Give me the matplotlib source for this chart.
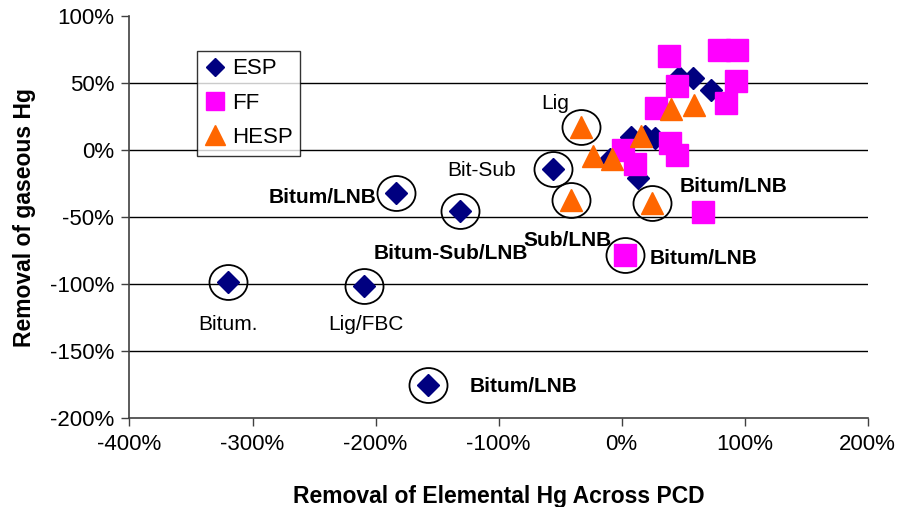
import matplotlib
matplotlib.use("Agg")
import matplotlib.pyplot as plt
from matplotlib.path import Path
from matplotlib.transforms import Affine2D
from matplotlib.ticker import FuncFormatter, MultipleLocator

plt.rcParams['font.family'] = ['Liberation Sans', 'DejaVu Sans']

# ---- data (percent) ----
esp_x = [-320, -209, -183, -131, -56, -157, 8, 19, 27, 13.5, -9.5, 47, 58, 73]
esp_y = [-98, -101, -32, -45, -14, -175, 10, 11, 9, -21, -6.5, 55, 54, 45]

ff_x = [38.5, 79, 94, 45, 93, 84.6, 28, 39.3, 45, 1.4, 10.9, 66, 2.8]
ff_y = [70.5, 74.5, 74.5, 48, 52, 35, 31.4, 5.2, -3.5, 0, -10.5, -46, -78]

hesp_x = [-33, -23, -8, 15.5, 40.5, 59, -41, 24.5]
hesp_y = [17.5, -4, -6.5, 11, 31, 34, -37, -39]

# circled points: (series, index)
circled = [("ESP", 0), ("ESP", 1), ("ESP", 2), ("ESP", 3), ("ESP", 4), ("ESP", 5),
           ("HESP", 0), ("HESP", 6), ("HESP", 7), ("FF", 12)]

# annotation labels: (text, x, y, bold)
labels = [
    ("Lig", -54, 35, False),
    ("Bit-Sub", -114, -15, False),
    ("Bitum/LNB", -243, -35, True),
    ("Bitum-Sub/LNB", -139, -77, True),
    ("Sub/LNB", -44, -67, True),
    ("Bitum/LNB", 67, -80.5, True),
    ("Bitum/LNB", 91, -27, True),
    ("Bitum.", -320, -130, False),
    ("Lig/FBC", -208, -130, False),
    ("Bitum/LNB", -80, -176, True),
]

xlim = (-400, 200)
ylim = (-200, 100)

fig = plt.figure(figsize=(9.01, 5.07), dpi=100)
ax = fig.add_axes([0.1437, 0.175, 0.963 - 0.1437, 0.9679 - 0.175])

# gridlines
for yv in [50, 0, -50, -100, -150]:
    ax.axhline(yv, color='black', lw=1.0, zorder=1)

ax.plot(esp_x, esp_y, linestyle='none', marker='D', ms=11, color='#000080',
        mec='#000080', label='ESP', zorder=3)
ax.plot(ff_x, ff_y, linestyle='none', marker='s', ms=15.5, color='#FF00FF',
        mec='#FF00FF', label='FF', zorder=4)
ax.plot(hesp_x, hesp_y, linestyle='none', marker='^', ms=16.5, color='#FF6600',
        mec='#FF6600', label='HESP', zorder=5)

series = {"ESP": (esp_x, esp_y), "FF": (ff_x, ff_y), "HESP": (hesp_x, hesp_y)}
cx = [series[s][0][i] for s, i in circled]
cy = [series[s][1][i] for s, i in circled]
ell = Path.unit_circle().transformed(Affine2D().scale(1.09, 1.0))
ax.plot(cx, cy, linestyle='none', marker=ell, ms=27.4, mfc='none', mec='black',
        mew=1.3, zorder=6)

for t, x, y, b in labels:
    ax.text(x, y, t, ha='center', va='center', fontsize=15,
            fontweight='bold' if b else 'normal', zorder=7)

ax.set_xlim(*xlim)
ax.set_ylim(*ylim)
ax.xaxis.set_major_locator(MultipleLocator(100))
ax.yaxis.set_major_locator(MultipleLocator(50))
pct = FuncFormatter(lambda v, p: f"{v:.0f}%")
ax.xaxis.set_major_formatter(pct)
ax.yaxis.set_major_formatter(pct)
ax.tick_params(axis='both', direction='out', length=6, width=1, colors='#404040',
               labelsize=16, labelcolor='black', pad=5)
for s in ['top', 'right']:
    ax.spines[s].set_visible(False)
for s in ['left', 'bottom']:
    ax.spines[s].set_color('#404040')
    ax.spines[s].set_linewidth(1.2)

ax.set_xlabel("Removal of Elemental Hg Across PCD", fontsize=16.5, fontweight='bold', labelpad=22)
ax.set_ylabel("Removal of gaseous Hg", fontsize=16.5, fontweight='bold', labelpad=10)

leg = ax.legend(loc='upper left', bbox_to_anchor=(0.0918, 0.9144), borderaxespad=0,
                fancybox=False, frameon=True, fontsize=16, labelspacing=0.6,
                handlelength=0.9, handletextpad=0.3, borderpad=0.35, markerscale=0.85)
leg.get_frame().set_edgecolor('black')
leg.get_frame().set_linewidth(1.0)

fig.savefig("out.png", dpi=100)
